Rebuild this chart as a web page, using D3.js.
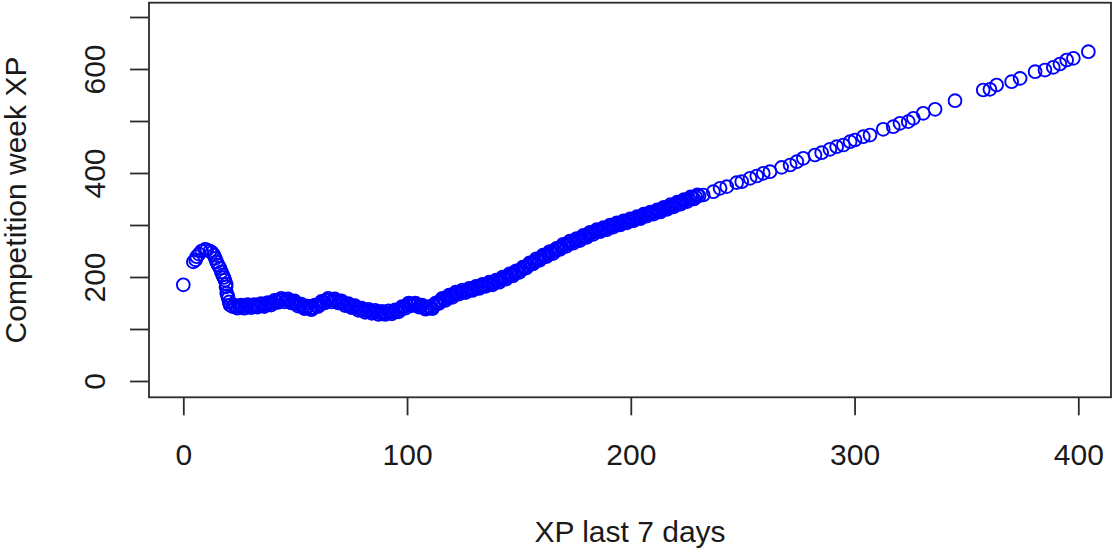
<!DOCTYPE html>
<html>
<head>
<meta charset="utf-8">
<script src="https://cdn.jsdelivr.net/npm/d3@7"></script>
<style>
  html, body { margin: 0; padding: 0; background: #fff; }
  svg { display: block; }
  text { font-family: "Liberation Sans", Arial, sans-serif; fill: #1a1a1a; }
</style>
</head>
<body>
<svg id="chart" width="1114" height="550"></svg>
<script>
// ---- data ----
const xpLast7 = [
  0,
  4.5, 5.5, 6, 7, 8.2, 9.7, 10.5, 11.9, 12.8, 13.7, 14.3, 14.9, 15.6, 16.4, 17, 17.6, 18.1, 18.6, 19.1, 19.2, 19.4, 19.8, 20.1, 20.5, 20.9,
  22, 23.5, 25, 26.5, 28, 29.5, 31, 32.5, 34, 35.5, 37, 38.5, 40, 41.5, 43, 44.5, 46, 47.5, 49, 50.5,
  52, 53.5, 55, 56.5, 58, 59.5, 61, 62.5, 64, 65.5, 67, 68.5, 70, 71.5, 73, 74.5, 76, 77.5, 79, 80.5,
  82, 83.5, 85, 86.5, 88, 89.5, 91, 92.5, 94, 95.5, 97, 98.5, 100, 101.5, 103, 104.5, 106, 107.5, 109, 110.5,
  112, 113.5, 115, 116.5, 118, 119.5, 121, 122.5, 124, 125.5, 127, 128.5, 130, 131.5, 133, 134.5, 136, 137.5, 139, 140.5,
  142, 143.5, 145, 146.5, 148, 149.5, 151, 152.5, 154, 155.5, 157, 158.5, 160, 161.5, 163, 164.5, 166, 167.5, 169, 170.5,
  172, 173.5, 175, 176.5, 178, 179.5, 181, 182.5, 184, 185.5, 187, 188.5, 190, 191.5, 193, 194.5, 196, 197.5, 199, 200.5,
  202, 203.5, 205, 206.5, 208, 209.5, 211, 212.5, 214, 215.5, 217, 218.5, 220, 221.5, 223, 224.5, 226, 227.5, 229, 230.5,
  232.4, 236.9, 239.9, 242.9, 247.3, 249.6, 253.3, 256.3, 259.2, 262.2, 267.4, 271.2, 274.2, 277.1, 282.3, 285.3, 289, 292,
  295, 298, 300.2, 303.9, 306.9, 312.8, 317.3, 320.3, 324, 326.3, 330.7, 336, 344.9, 357.5, 360.5, 363.5, 370.2, 374,
  380.7, 385.1, 388.8, 391.8, 394.8, 397.8, 404.5
];
const competitionWeekXP = [
  185,
  229, 233, 239, 244, 250, 253, 252, 250, 247, 242, 236, 229, 223, 217, 210, 204, 199, 194, 181, 186, 169, 164, 159, 152, 146,
  143, 143, 143, 143, 143.5, 144, 144, 144.5, 145, 146, 147, 148.5, 150, 153, 155, 156, 155, 154, 152, 149,
  146, 143, 141, 140, 141, 144, 148, 152, 155, 156, 155, 154, 152, 150, 147, 145, 143, 141, 138, 136,
  135, 134, 133, 132, 131, 131, 131, 132, 133, 135, 138, 142, 145, 148, 148, 146, 144, 142, 140, 141,
  144, 150, 155, 157, 160, 163, 166, 169, 171, 172, 174, 176, 178, 180, 182, 184, 186, 187, 189, 192,
  195, 198, 201, 204, 207, 211, 214, 218, 222, 226, 230, 233, 237, 241, 244, 247, 250, 254, 258, 261,
  264, 267, 270, 272, 275, 278, 281, 284, 287, 289, 291, 293, 296, 298, 300, 302, 304, 306, 308, 310,
  312, 314, 316, 319, 321, 323, 325, 327, 330, 332, 334, 337, 339, 342, 344, 347, 350, 352, 354, 356,
  357.7, 364, 370.6, 373.7, 381.4, 383.3, 389.8, 394.2, 399.4, 402.5, 410.9, 415.4, 421.7, 428.3, 434.6, 439, 445.6, 450.6,
  453.8, 460.2, 463.5, 469.8, 473, 484, 489, 495.6, 498.7, 505.2, 514.8, 522.5, 539, 559.6, 561, 569.2, 575.6, 582,
  594.8, 598, 603.3, 609.6, 617.3, 620.6, 633.3
];
// further points inside the dense band (x 22-230), read as the band's upper/lower edge
const bandXpLast7 = [
  22.75, 24.25, 25.75, 27.25, 28.75, 30.25, 31.75, 33.25, 34.75, 36.25, 37.75, 39.25, 40.75, 42.25, 43.75, 45.25, 46.75, 48.25, 49.75, 51.25,
  52.75, 54.25, 55.75, 57.25, 58.75, 60.25, 61.75, 63.25, 64.75, 66.25, 67.75, 69.25, 70.75, 72.25, 73.75, 75.25, 76.75, 78.25, 79.75, 81.25,
  82.75, 84.25, 85.75, 87.25, 88.75, 90.25, 91.75, 93.25, 94.75, 96.25, 97.75, 99.25, 100.75, 102.25, 103.75, 105.25, 106.75, 108.25, 109.75, 111.25,
  112.75, 114.25, 115.75, 117.25, 118.75, 120.25, 121.75, 123.25, 124.75, 126.25, 127.75, 129.25, 130.75, 132.25, 133.75, 135.25, 136.75, 138.25, 139.75, 141.25,
  142.75, 144.25, 145.75, 147.25, 148.75, 150.25, 151.75, 153.25, 154.75, 156.25, 157.75, 159.25, 160.75, 162.25, 163.75, 165.25, 166.75, 168.25, 169.75, 171.25,
  172.75, 174.25, 175.75, 177.25, 178.75, 180.25, 181.75, 183.25, 184.75, 186.25, 187.75, 189.25, 190.75, 192.25, 193.75, 195.25, 196.75, 198.25, 199.75, 201.25,
  202.75, 204.25, 205.75, 207.25, 208.75, 210.25, 211.75, 213.25, 214.75, 216.25, 217.75, 219.25, 220.75, 222.25, 223.75, 225.25, 226.75, 228.25, 229.75
];
const bandCompetitionWeekXP = [
  146, 140, 146, 140, 147, 141, 147, 142, 149, 143, 151, 146, 155, 151, 159, 152, 158, 150, 154, 144,
  148, 139, 144, 137, 146, 143, 153, 150, 159, 152, 158, 150, 154, 145, 149, 141, 145, 136, 140, 132,
  138, 130, 136, 128, 134, 128, 135, 129, 137, 133, 143, 140, 150, 145, 150, 142, 146, 138, 143, 139,
  150, 149, 159, 155, 165, 161, 171, 167, 175, 170, 178, 174, 182, 178, 186, 182, 190, 185, 194, 190,
  200, 196, 206, 202, 212, 209, 219, 217, 227, 225, 235, 232, 242, 239, 249, 245, 255, 253, 263, 259,
  269, 265, 274, 270, 280, 276, 286, 282, 291, 287, 295, 291, 300, 296, 304, 300, 308, 304, 312, 308,
  316, 312, 321, 317, 325, 321, 329, 325, 334, 330, 339, 335, 344, 340, 349, 345, 354, 350, 358
];
const xTicks = [0, 100, 200, 300, 400];
const yTicks = [0, 100, 200, 300, 400, 500, 600, 700];
const yTickLabels = [0, 200, 400, 600];
const xTitle = "XP last 7 days";
const yTitle = "Competition week XP";

// ---- layout ----
const box = { left: 149, right: 1111, top: 2.7, bottom: 397.3 };
const svg = d3.select("#chart");
const x = d3.scaleLinear().domain([0, 400]).range([183.3, 1078.3]);
const y = d3.scaleLinear().domain([0, 700]).range([381, 17]);
const axisColor = "#2b2b2b";

const points = xpLast7.map((v, i) => ({ x: v, y: competitionWeekXP[i] }))
  .concat(bandXpLast7.map((v, i) => ({ x: v, y: bandCompetitionWeekXP[i] })));

// points
svg.append("g")
  .selectAll("circle")
  .data(points)
  .join("circle")
  .attr("cx", d => x(d.x))
  .attr("cy", d => y(d.y))
  .attr("r", 6.4)
  .attr("fill", "none")
  .attr("stroke", "#0000ff")
  .attr("stroke-width", 1.9);

// box
svg.append("rect")
  .attr("x", box.left).attr("y", box.top)
  .attr("width", box.right - box.left).attr("height", box.bottom - box.top)
  .attr("fill", "none").attr("stroke", axisColor).attr("stroke-width", 1.8);

// x axis
const gx = svg.append("g")
  .attr("transform", `translate(0,${box.bottom})`)
  .call(d3.axisBottom(x).tickValues(xTicks).tickSize(18).tickFormat(d3.format("d")));
gx.select(".domain").remove();
gx.selectAll(".tick line").attr("stroke", axisColor).attr("stroke-width", 1.8);
gx.selectAll(".tick text")
  .attr("y", 68).attr("dy", 0)
  .style("font-size", "30px")
  .attr("fill", "#1a1a1a");

// y axis
const gy = svg.append("g")
  .attr("transform", `translate(${box.left},0)`)
  .call(d3.axisLeft(y).tickValues(yTicks).tickSize(19)
    .tickFormat(d => yTickLabels.includes(d) ? String(d) : ""));
gy.select(".domain").remove();
gy.selectAll(".tick line").attr("stroke", axisColor).attr("stroke-width", 1.8);
gy.selectAll(".tick text")
  .attr("x", null).attr("dy", 0)
  .attr("text-anchor", "middle")
  .attr("transform", "translate(-44,0) rotate(-90)")
  .style("font-size", "30px")
  .attr("fill", "#1a1a1a");

// titles
svg.append("text")
  .attr("x", (box.left + box.right) / 2).attr("y", 542)
  .attr("text-anchor", "middle")
  .style("font-size", "30px")
  .text(xTitle);
svg.append("text")
  .attr("transform", `translate(26,${(box.top + box.bottom) / 2}) rotate(-90)`)
  .attr("text-anchor", "middle")
  .style("font-size", "30px")
  .text(yTitle);
</script>
</body>
</html>
